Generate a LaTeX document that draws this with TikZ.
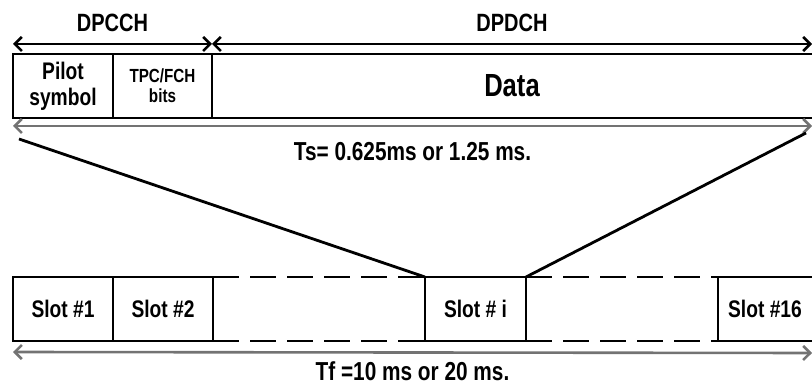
\documentclass[tikz,border=0pt]{standalone}
\usepackage{fontspec}
\setmainfont{Liberation Sans}[FakeStretch=0.8]
\usetikzlibrary{
    arrows.meta,
    positioning,
    calc,
}

\begin{document}
\begin{tikzpicture}[
    x=1pt, y=-1pt,
    frame/.style={line width=2.8pt},
    field/.style={frame, draw, inner sep=0pt, outer sep=0pt, anchor=north west,
                minimum height=64pt, align=center,
                font=\bfseries\fontsize{24}{26}\selectfont},
    openfield/.style={field, draw=none},
    gap/.style={frame, dash pattern=on 26pt off 11pt},
    span/.style={line width=2.6pt, {Straight Barb[length=7pt,width=14pt]}-{Straight Barb[length=7pt,width=14pt]}},
    period/.style={span, draw=black!55},
    lbl/.style={inner sep=0pt, font=\bfseries\fontsize{25}{27}\selectfont},
]
\useasboundingbox (0,0) rectangle (812,387);
\clip (0,0) rectangle (812,387);

% slot structure
\node[field, minimum width=100pt] (pilot) at (13,54) {Pilot\\symbol};
\node[field, minimum width=99pt, right=0pt of pilot, font=\bfseries\fontsize{19}{20}\selectfont] (tpc) {TPC/FCH\\bits};
\node[openfield, minimum width=600pt, right=0pt of tpc, font=\bfseries\fontsize{32}{34}\selectfont] (data) {Data};
\draw[frame] (tpc.north east) -- ([xshift=6pt]data.north east);
\draw[frame] (tpc.south east) -- ([xshift=6pt]data.south east);

\coordinate (topend) at (812,44);
\draw[span] ([yshift=10pt]pilot.north west) -- ([yshift=10pt]tpc.north east)
    node[lbl, midway, above=11pt] (dpcch) {DPCCH};
\draw[span] ([yshift=10pt]tpc.north east) -- (topend)
    node[lbl, midway, above=11pt] (dpdch) {DPDCH};

\coordinate (tsend) at (812,126);
\draw[period] ([yshift=-8pt]pilot.south west) -- (tsend)
    node[lbl, midway, below=15pt, font=\bfseries\fontsize{26}{28}\selectfont] (ts) {Ts= 0.625ms or 1.25 ms.};

% frame of slots
\node[field, minimum width=100pt] (slot1) at (13,277) {Slot \#1};
\node[field, minimum width=100pt, right=0pt of slot1] (slot2) {Slot \#2};
\node[field, minimum width=101pt] (sloti) at (425,277) {Slot \# i};
\node[openfield, minimum width=94pt] (slot16) at (718,277) {Slot \#16};
\draw[frame] ([xshift=6pt]slot16.north east) -- (slot16.north west) -- (slot16.south west) -- ([xshift=6pt]slot16.south east);

\draw[gap] (slot2.north east) -- (sloti.north west);
\draw[gap] (slot2.south east) -- (sloti.south west);
\draw[gap] (sloti.north east) -- (slot16.north west);
\draw[gap] (sloti.south east) -- (slot16.south west);

\coordinate (tfend) at (812,353);
\draw[period] ([yshift=-11pt]slot1.south west) -- (tfend)
    node[lbl, midway, below=8pt, font=\bfseries\fontsize{26}{28}\selectfont] (tf) {Tf =10 ms or 20 ms.};

% zoom lines
\coordinate (zoomL) at (19,139);
\coordinate (zoomR) at (806,133);
\draw[frame] (zoomL) -- (sloti.north west);
\draw[frame] (zoomR) -- (sloti.north east);

\end{tikzpicture}
\end{document}
